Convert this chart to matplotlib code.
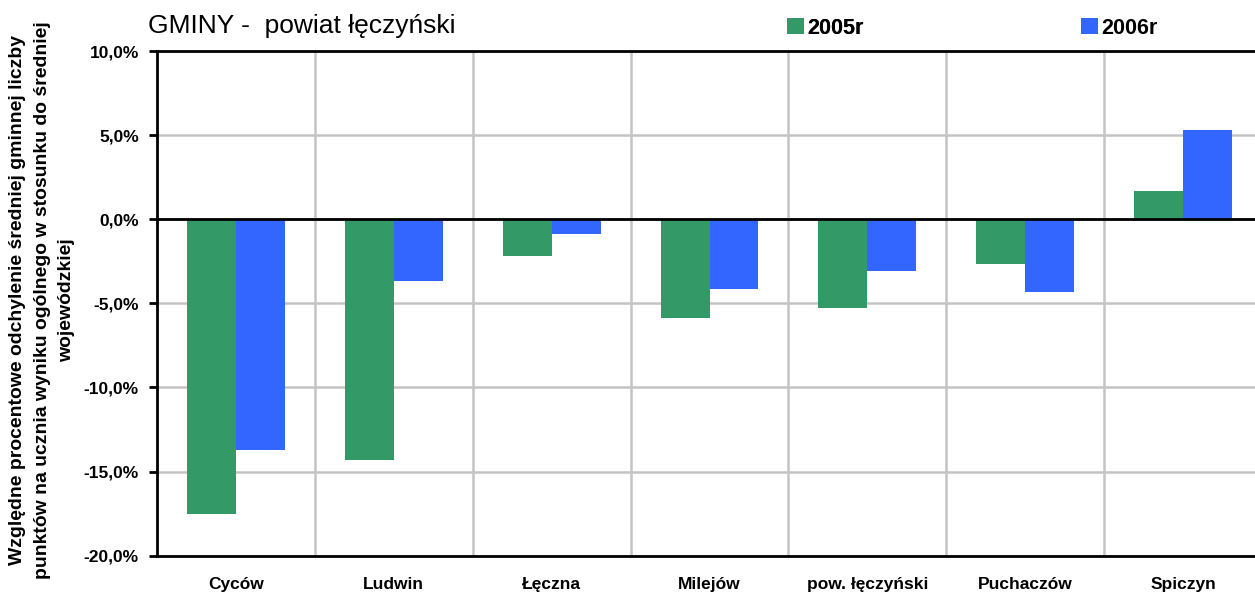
import matplotlib
matplotlib.use("Agg")
import matplotlib.pyplot as plt
import numpy as np
from matplotlib.ticker import FuncFormatter, MultipleLocator

categories = ["Cyców", "Ludwin", "Łęczna", "Milejów", "pow. łęczyński", "Puchaczów", "Spiczyn"]
values_2005 = [-17.55, -14.3, -2.2, -5.85, -5.25, -2.65, 1.65]
values_2006 = [-13.7, -3.7, -0.85, -4.15, -3.1, -4.3, 5.3]
series_labels = ["2005r", "2006r"]
title = "GMINY -  powiat łęczyński"
ylabel_lines = ["Względne procentowe odchylenie średniej gminnej liczby",
                "punktów na ucznia wyniku ogólnego w stosunku do średniej",
                "wojewódzkiej"]

plt.rcParams['font.family'] = ['Liberation Sans', 'DejaVu Sans']

fig = plt.figure(figsize=(12.55, 5.94), dpi=100)
ax = fig.add_axes([157/1255, 1-555.7/594, 1105/1255, (555.7-51)/594])

x = np.arange(len(categories))
w = 0.31
green = "#339966"
blue = "#3366FF"
b1 = ax.bar(x - w/2, values_2005, w, color=green, label=series_labels[0], zorder=3)
b2 = ax.bar(x + w/2, values_2006, w, color=blue, label=series_labels[1], zorder=3)

ax.set_xlim(-0.5, len(categories) - 0.5)
ax.set_ylim(-20, 10)
ax.yaxis.set_major_locator(MultipleLocator(5))
ax.yaxis.set_major_formatter(FuncFormatter(lambda v, p: f"{v:.1f}%".replace(".", ",")))
ax.grid(axis='y', color="#c4c4c4", linewidth=1.8, zorder=0)
for xb in np.arange(0.5, len(categories) - 0.5, 1):
    ax.axvline(xb, color="#c4c4c4", linewidth=1.8, zorder=0)
ax.axhline(0, color="black", linewidth=2, zorder=4)

ax.set_xticks(x)
ax.set_xticklabels(categories, fontweight='bold', fontsize=12.5)
ax.tick_params(axis='x', length=0, pad=15)
ax.tick_params(axis='y', length=6, width=2, direction='out', pad=7, labelsize=12.5)
for lab in ax.get_yticklabels():
    lab.set_fontweight('bold')

for s in ['left', 'top', 'bottom']:
    ax.spines[s].set_linewidth(2)
    ax.spines[s].set_color('black')
ax.spines['right'].set_visible(False)

fig.text(148/1255, 1-26/594, title, fontsize=19, va='center', ha='left')

# legend entries
leg1 = fig.legend(handles=[b1], labels=[series_labels[0]], loc='center left',
                  bbox_to_anchor=(787/1255, 1-28/594), frameon=False,
                  prop={'weight': 'bold', 'size': 15.5}, handlelength=0.8, handleheight=0.8,
                  handletextpad=0.15, borderaxespad=0, borderpad=0)
fig.add_artist(leg1)
leg2 = fig.legend(handles=[b2], labels=[series_labels[1]], loc='center left',
                  bbox_to_anchor=(1081/1255, 1-28/594), frameon=False,
                  prop={'weight': 'bold', 'size': 15.5}, handlelength=0.8, handleheight=0.8,
                  handletextpad=0.15, borderaxespad=0, borderpad=0)

# y label: three centred rotated lines
line_x = [18, 43, 67]
target_len = 554
renderer = fig.canvas.get_renderer()
probe = fig.text(0, 0, ylabel_lines[1], fontsize=12, fontweight='bold', rotation=90)
ext = probe.get_window_extent(renderer)
fs = 12 * target_len / ext.height
probe.remove()
for lx, line in zip(line_x, ylabel_lines):
    fig.text(lx/1255, 1-300/594, line, rotation=90, fontsize=fs, fontweight='bold',
             ha='center', va='center')

fig.savefig("out.png", dpi=100)
